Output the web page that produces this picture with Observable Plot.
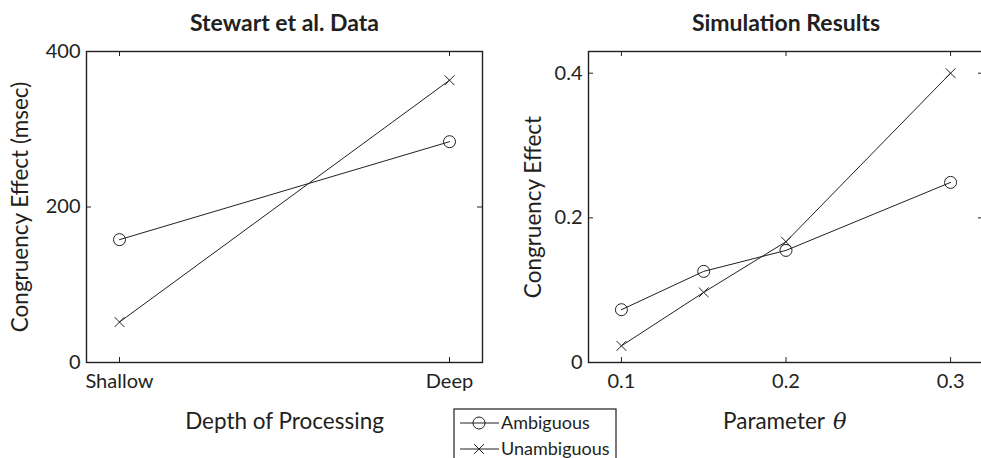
<!DOCTYPE html>
<html><head><meta charset="utf-8">
<script src="https://cdn.jsdelivr.net/npm/d3@7"></script>
<script src="https://cdn.jsdelivr.net/npm/@observablehq/plot@0.6"></script>
<style>
html,body{margin:0;padding:0;background:#fff;}
#fig{position:relative;width:981px;height:458px;overflow:hidden;}
#fig > * {position:absolute;top:0;}
</style></head><body><div id="fig"></div>
<script>
// ---- data ----
const seriesNames = ["Ambiguous", "Unambiguous"];

const depthCategories = ["Shallow", "Deep"];
const stewartAmbiguous = [158, 284];
const stewartUnambiguous = [52, 363];
const stewartYTicks = [0, 200, 400];

const thetaValues = [0.1, 0.15, 0.2, 0.3];
const simAmbiguous = [0.073, 0.126, 0.155, 0.249];
const simUnambiguous = [0.023, 0.097, 0.167, 0.400];
const thetaTicks = [0.1, 0.2, 0.3];
const simYTicks = [0, 0.2, 0.4];

const titles = ["Stewart et al. Data", "Simulation Results"];
const xLabels = ["Depth of Processing", "Parameter"];
const thetaSymbol = "θ";
const yLabels = ["Congruency Effect (msec)", "Congruency Effect"];

// ---- style ----
const ink = "#231f20";
const font = "Lato, 'Open Sans', sans-serif";
const H = 458, MT = 51, MB = 96;
const FH = H - MT - MB;
const TICK = 5;
const TICK_FS = 20, LABEL_FS = 22.5, TITLE_FS = 23, LEGEND_FS = 18;

function rowsFrom(xs, a, u) {
  return xs.flatMap((x, i) => [
    {x, y: a[i], s: seriesNames[0]},
    {x, y: u[i], s: seriesNames[1]}
  ]);
}

function panel({rows, xScale, yScale, xTicks, yTicks, tickFmtX, tickFmtY, width, ml, mr, title, yLabel, yLabelDx, extra = []}) {
  const FW = width - ml - mr;
  return Plot.plot({
    width, height: H, marginLeft: ml, marginRight: mr, marginTop: MT, marginBottom: MB,
    style: {fontFamily: font, color: ink, background: "transparent", overflow: "visible"},
    x: {...xScale, label: null},
    y: {...yScale, label: null},
    marks: [
      Plot.frame({stroke: ink, strokeWidth: 1.4}),
      // inward ticks on all four sides
      Plot.tickX(xTicks, {x: d => d, insetTop: FH - TICK, stroke: ink}),
      Plot.tickX(xTicks, {x: d => d, insetBottom: FH - TICK, stroke: ink}),
      Plot.tickY(yTicks, {y: d => d, insetRight: FW - TICK, stroke: ink}),
      Plot.tickY(yTicks, {y: d => d, insetLeft: FW - TICK, stroke: ink}),
      Plot.axisX(xTicks, {anchor: "bottom", tickSize: 0, tickPadding: 11, fontSize: TICK_FS, fill: ink, tickFormat: tickFmtX, label: null}),
      Plot.axisY(yTicks, {anchor: "left", tickSize: 0, tickPadding: 6, fontSize: TICK_FS, fill: ink, tickFormat: tickFmtY, label: null}),
      Plot.line(rows, {x: "x", y: "y", z: "s", stroke: ink, strokeWidth: 1}),
      Plot.dot(rows.filter(d => d.s === seriesNames[0]), {x: "x", y: "y", r: 6, symbol: "circle", stroke: ink, fill: "none", strokeWidth: 1}),
      Plot.dot(rows.filter(d => d.s === seriesNames[1]), {x: "x", y: "y", r: 4.5, symbol: "times", stroke: ink, strokeWidth: 1}),
      Plot.text([title], {frameAnchor: "top", dy: -21, lineAnchor: "bottom", textAnchor: "middle", fontSize: TITLE_FS, fontWeight: "bold", fill: ink}),
      Plot.text([yLabel], {frameAnchor: "left", dx: yLabelDx, rotate: -90, textAnchor: "middle", lineAnchor: "middle", fontSize: LABEL_FS, fill: ink}),
      ...extra
    ]
  });
}

const fig = document.getElementById("fig");

const left = panel({
  rows: rowsFrom(depthCategories, stewartAmbiguous, stewartUnambiguous),
  xScale: {type: "point", domain: depthCategories, padding: 0.1},
  yScale: {domain: [0, 400]},
  xTicks: depthCategories, yTicks: stewartYTicks, tickFmtX: d => d, tickFmtY: d => String(d),
  width: 490, ml: 86, mr: 8,
  title: titles[0], yLabel: yLabels[0], yLabelDx: -66,
  extra: [Plot.text([xLabels[0]], {frameAnchor: "bottom", dy: 66, lineAnchor: "bottom", textAnchor: "middle", fontSize: LABEL_FS, fill: ink})]
});
left.style.left = "0px";
fig.appendChild(left);

const right = panel({
  rows: rowsFrom(thetaValues, simAmbiguous, simUnambiguous),
  xScale: {type: "linear", domain: [0.08, 0.32]},
  yScale: {domain: [0, 0.43]},
  xTicks: thetaTicks, yTicks: simYTicks, tickFmtX: d => String(d), tickFmtY: d => String(d),
  width: 495, ml: 98, mr: 2,
  title: titles[1], yLabel: yLabels[1], yLabelDx: -55,
  extra: [
    Plot.text([xLabels[1]], {frameAnchor: "bottom", dy: 66, dx: 39, lineAnchor: "bottom", textAnchor: "end", fontSize: LABEL_FS, fill: ink}),
    Plot.text([thetaSymbol], {frameAnchor: "bottom", dy: 66, dx: 47, lineAnchor: "bottom", textAnchor: "start", fontSize: LABEL_FS, fontStyle: "italic", fontFamily: "'DejaVu Serif', 'Liberation Serif', serif", fill: ink})
  ]
});
right.style.left = "490px";
fig.appendChild(right);

// ---- legend ----
const legW = 162, legH = 62;
const leg = d3.create("svg").attr("width", legW + 2).attr("height", legH)
  .style("position", "absolute").style("left", "453px").style("top", "408px").style("overflow", "visible");
leg.append("rect").attr("x", 1).attr("y", 1).attr("width", legW).attr("height", legH)
  .attr("fill", "white").attr("stroke", ink).attr("stroke-width", 1.2);
const rowY = [15, 41];
seriesNames.forEach((name, i) => {
  const g = leg.append("g").attr("transform", `translate(0,${rowY[i]})`);
  g.append("line").attr("x1", 7).attr("x2", 46).attr("stroke", ink).attr("stroke-width", 1);
  if (i === 0) g.append("circle").attr("cx", 26).attr("r", 6).attr("fill", "none").attr("stroke", ink);
  else g.append("path").attr("d", d3.symbol(d3.symbolTimes, 4.5 * 4.5 * Math.PI)()).attr("transform", "translate(26,0)").attr("stroke", ink).attr("fill", "none");
  g.append("text").attr("x", 48).attr("dy", "0.35em").attr("font-family", font).attr("font-size", LEGEND_FS).attr("fill", ink).text(name);
});
fig.appendChild(leg.node());
</script>
</body></html>
